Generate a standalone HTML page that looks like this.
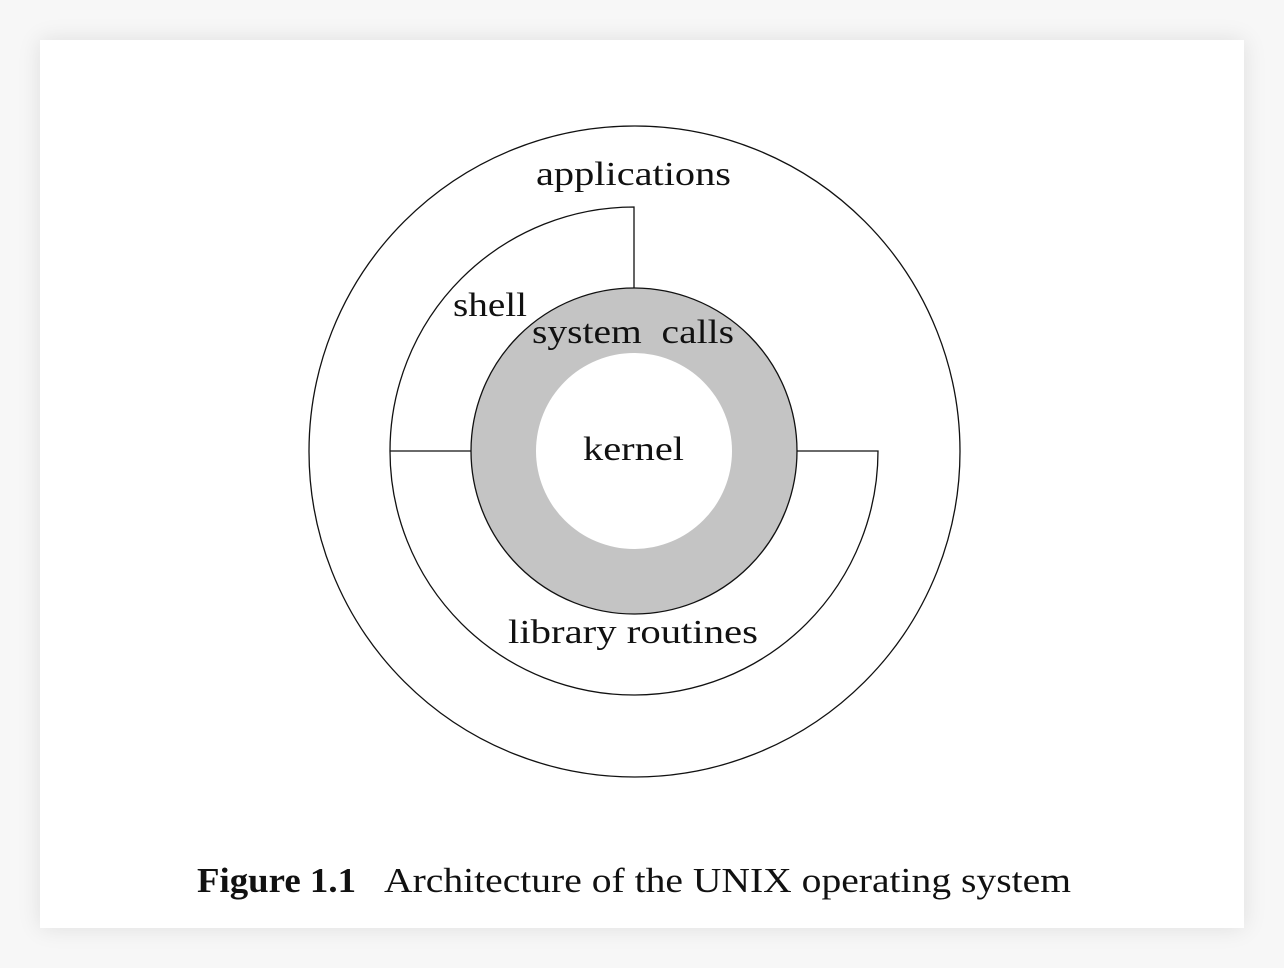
<!DOCTYPE html>
<html><head><meta charset="utf-8"><style>
html,body{margin:0;padding:0;background:#f7f7f7;width:1284px;height:968px;overflow:hidden}
.card{position:absolute;left:40px;top:40px;width:1204px;height:888px;background:#fff;box-shadow:0 0 22px rgba(0,0,0,0.10)}
svg{position:absolute;left:0;top:0}
text{font-family:"Liberation Serif",serif;fill:#111}
</style></head><body>
<div class="card"></div>
<svg width="1284" height="968" viewBox="0 0 1284 968">
<g fill="none" stroke="#111" stroke-width="1.3">
<circle cx="634.5" cy="451.5" r="325.5" fill="#fff"/>
<path d="M390 451 A244 244 0 0 1 634 207 L634 288.5"/>
<path d="M390 451 A244 244 0 0 0 878 451 L797 451"/>
<line x1="390" y1="451" x2="471" y2="451"/>
<circle cx="634" cy="451" r="163" fill="#c4c4c4"/>
</g>
<circle cx="634" cy="451" r="98" fill="#fff"/>
<g font-size="34">
<text x="536" y="185" textLength="195" lengthAdjust="spacingAndGlyphs">applications</text>
<text x="453" y="316" textLength="74" lengthAdjust="spacingAndGlyphs">shell</text>
<text x="532" y="343" textLength="202" lengthAdjust="spacingAndGlyphs" xml:space="preserve">system  calls</text>
<text x="583" y="460" textLength="101" lengthAdjust="spacingAndGlyphs">kernel</text>
<text x="508" y="643" textLength="250" lengthAdjust="spacingAndGlyphs">library routines</text>
</g>
<g font-size="35">
<text x="197" y="892" font-weight="bold" textLength="159" lengthAdjust="spacingAndGlyphs">Figure 1.1</text>
<text x="384" y="892" textLength="687" lengthAdjust="spacingAndGlyphs">Architecture of the UNIX operating system</text>
</g>
</svg>
</body></html>
